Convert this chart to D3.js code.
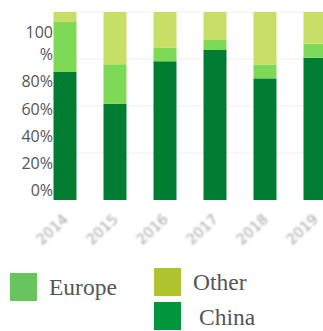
<!DOCTYPE html>
<html>
<head>
<meta charset="utf-8">
<script src="https://cdn.jsdelivr.net/npm/d3@7"></script>
<style>
  html, body { margin: 0; padding: 0; background: #fff; }
  svg { display: block; }
</style>
</head>
<body>
<svg id="chart" width="323" height="331"></svg>
<script>
// Share of shipments by destination, stacked to 100%
const years = ["2014", "2015", "2016", "2017", "2018", "2019"];
const china = [0.681, 0.511, 0.738, 0.798, 0.647, 0.757];
const europe = [0.266, 0.211, 0.071, 0.053, 0.074, 0.074];
const other = [0.053, 0.278, 0.191, 0.149, 0.279, 0.169];
const seriesNames = ["China", "Europe", "Other"];
const yTickValues = [0, 0.2, 0.4, 0.6, 0.8, 1.0];
const gridValues = [0.25, 0.5, 0.75, 1.0];

const barColors = { China: "#017d33", Europe: "#7ed957", Other: "#c7df67" };
const legendColors = { China: "#00963b", Europe: "#68c45d", Other: "#aec32d" };

const svg = d3.select("#chart");

const rows = years.map((y, i) => ({ year: y, China: china[i], Europe: europe[i], Other: other[i] }));
const stack = d3.stack().keys(seriesNames)(rows);

const x = d3.scaleBand().domain(years).range([40, 340]).paddingInner(0.54).paddingOuter(0.27);
const y = d3.scaleLinear().domain([0, 1]).range([200, 12]);
// tick labels sit on their own, slightly compressed ruler
const yLabel = d3.scaleLinear().domain([0, 1]).range([190, 54]);

// faint horizontal grid
svg.append("g")
  .selectAll("line")
  .data(gridValues)
  .join("line")
  .attr("x1", 54).attr("x2", 323)
  .attr("y1", d => y(d)).attr("y2", d => y(d))
  .attr("stroke", "#eeeeee")
  .attr("stroke-width", 1);

// stacked bars
svg.append("g")
  .selectAll("g")
  .data(stack)
  .join("g")
  .attr("fill", d => barColors[d.key])
  .selectAll("rect")
  .data(d => d)
  .join("rect")
  .attr("x", d => x(d.data.year))
  .attr("width", x.bandwidth())
  .attr("y", d => y(d[1]))
  .attr("height", d => y(d[0]) - y(d[1]));

// y axis labels
const yAxis = d3.axisLeft(yLabel)
  .tickValues(yTickValues)
  .tickSize(0)
  .tickPadding(0)
  .tickFormat(d3.format(".0%"));
const yg = svg.append("g").attr("transform", "translate(53,0)").call(yAxis);
yg.select(".domain").remove();
yg.selectAll("text")
  .attr("fill", "#555")
  .style("font-family", "'Open Sans', sans-serif")
  .style("font-size", "16px")
  .attr("dy", "0.35em");
// the top label wraps onto two lines
yg.selectAll(".tick text")
  .filter(d => d === 1)
  .each(function () {
    const t = d3.select(this);
    const label = t.text();
    t.text(null);
    t.append("tspan").attr("x", 0).attr("dy", "-1.03em").text(label.replace("%", ""));
    t.append("tspan").attr("x", 0).attr("dy", "1.38em").text("%");
  });

// soft, rotated year labels
const defs = svg.append("defs");
defs.append("filter").attr("id", "soft")
  .attr("x", "-20%").attr("y", "-20%").attr("width", "140%").attr("height", "140%")
  .append("feGaussianBlur").attr("stdDeviation", 1.1);

const xg = svg.append("g").attr("filter", "url(#soft)");
xg.selectAll("text")
  .data(years)
  .join("text")
  .attr("transform", d => `translate(${x(d) + x.bandwidth() / 2 - 3},${213}) rotate(-43)`)
  .attr("text-anchor", "end")
  .attr("dy", "0.7em")
  .attr("fill", "#a8a8a8")
  .style("font-family", "'DejaVu Sans', sans-serif")
  .style("font-size", "14.5px")
  .text(d => d);

// legend
const legendItems = [
  { key: "Europe", sx: 10, sy: 273, tx: 49, ty: 295 },
  { key: "Other", sx: 154, sy: 268, tx: 193, ty: 290 },
  { key: "China", sx: 154, sy: 302, tx: 199, ty: 325 }
];
const lg = svg.append("g");
lg.selectAll("rect")
  .data(legendItems)
  .join("rect")
  .attr("x", d => d.sx).attr("y", d => d.sy)
  .attr("width", 27).attr("height", 28)
  .attr("fill", d => legendColors[d.key]);
lg.selectAll("text")
  .data(legendItems)
  .join("text")
  .attr("x", d => d.tx).attr("y", d => d.ty)
  .attr("fill", "#555")
  .style("font-family", "'Liberation Serif', serif")
  .style("font-size", "23.5px")
  .text(d => d.key);
</script>
</body>
</html>
